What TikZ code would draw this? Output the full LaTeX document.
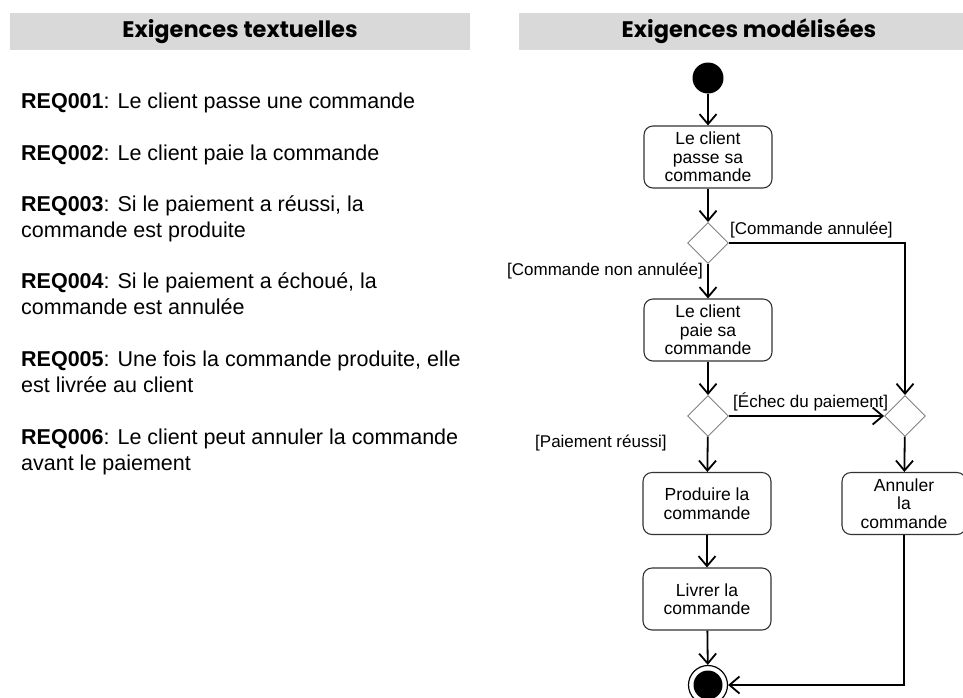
\documentclass[tikz,border=0pt]{standalone}
\usepackage{fontspec}
\setmainfont{Liberation Sans}
\newfontfamily\headfont{Poppins}
\usetikzlibrary{arrows.meta,shapes.geometric}
\definecolor{headgray}{HTML}{D9D9D9}
\definecolor{diagray}{HTML}{808080}
\definecolor{boxline}{HTML}{333333}
\begin{document}
\begin{tikzpicture}[x=1pt,y=-1pt,
  header/.style={fill=headgray, draw=none},
  headtext/.style={font=\headfont\fontsize{22.5}{26}\selectfont\bfseries},
  req/.style={anchor=base west, align=left, inner sep=0pt,
              font=\fontsize{21.5}{26}\selectfont},
  action/.style={draw=boxline, line width=1.1pt, rounded corners=9pt,
                 minimum width=128pt, minimum height=62pt, align=center,
                 font=\fontsize{17.5}{18.5}\selectfont, inner sep=1pt},
  decision/.style={diamond, draw=diagray, line width=0.9pt, aspect=1,
                   minimum width=41pt, minimum height=41pt, inner sep=0pt},
  flow/.style={line width=1.8pt,
               -{Straight Barb[length=10pt,width=17pt,line width=1.8pt]}},
  guard/.style={font=\fontsize{17}{19}\selectfont, inner sep=0pt},
]
\useasboundingbox (0,0) rectangle (963,697);

% column headers
\fill[header] (10,13) rectangle (470,50);
\node[headtext] (h1) at (240,31.5) {Exigences textuelles};
\fill[header] (519,13) rectangle (980,50);
\node[headtext] (h2) at (749,31.5) {Exigences modélisées};

% textual requirements (node base = baseline of the last line)
\node[req] (r1) at (21,108) {\textbf{REQ001}: Le client passe une commande};
\node[req] (r2) at (21,160) {\textbf{REQ002}: Le client paie la commande};
\node[req] (r3) at (21,237) {\textbf{REQ003}: Si le paiement a réussi, la\\commande est produite};
\node[req] (r4) at (21,314) {\textbf{REQ004}: Si le paiement a échoué, la\\commande est annulée};
\node[req] (r5) at (21,392) {\textbf{REQ005}: Une fois la commande produite, elle\\est livrée au client};
\node[req] (r6) at (21,470) {\textbf{REQ006}: Le client peut annuler la commande\\avant le paiement};

% activity diagram
\node[circle, fill=black, minimum size=31pt, inner sep=0pt] (start) at (708,78) {};
\node[action] (a1) at (708,157) {Le client\\passe sa\\commande};
\node[decision] (d1) at (708,243) {};
\node[action] (a2) at (708,330) {Le client\\paie sa\\commande};
\node[decision] (d2) at (708,416) {};
\node[decision] (d3) at (905,416) {};
\node[action] (a3) at (707,503.5) {Produire la\\commande};
\node[action, minimum width=124pt] (a4) at (904,503.5) {Annuler\\la\\commande};
\node[action] (a5) at (707,599) {Livrer la\\commande};
\node[circle, draw=black, line width=1.2pt, minimum size=39pt, inner sep=0pt] (end) at (708,685) {};
\node[circle, fill=black, minimum size=29pt, inner sep=0pt] (endcore) at (end) {};

\draw[flow] (start) -- (a1);
\draw[flow] (a1) -- (d1);
\draw[flow] (d1) -- (a2);
\draw[flow] (d1.east) -| (d3.north);
\draw[flow] (a2) -- (d2);
\draw[flow] (d2.east) -- (d3.west);
\draw[flow] (d2) -- (a3);
\draw[flow] (d3) -- (a4);
\draw[flow] (a3) -- (a5);
\draw[flow] (a5) -- (end);
\draw[flow] (a4.south) |- (end.east);

% guards
\node[guard, anchor=west] (g1) at (730,230) {[Commande annulée]};
\node[guard, anchor=east] (g2) at (703,271) {[Commande non annulée]};
\node[guard, anchor=west] (g3) at (733,402) {[Échec du paiement]};
\node[guard, anchor=west] (g4) at (535,443) {[Paiement réussi]};
\end{tikzpicture}
\end{document}
